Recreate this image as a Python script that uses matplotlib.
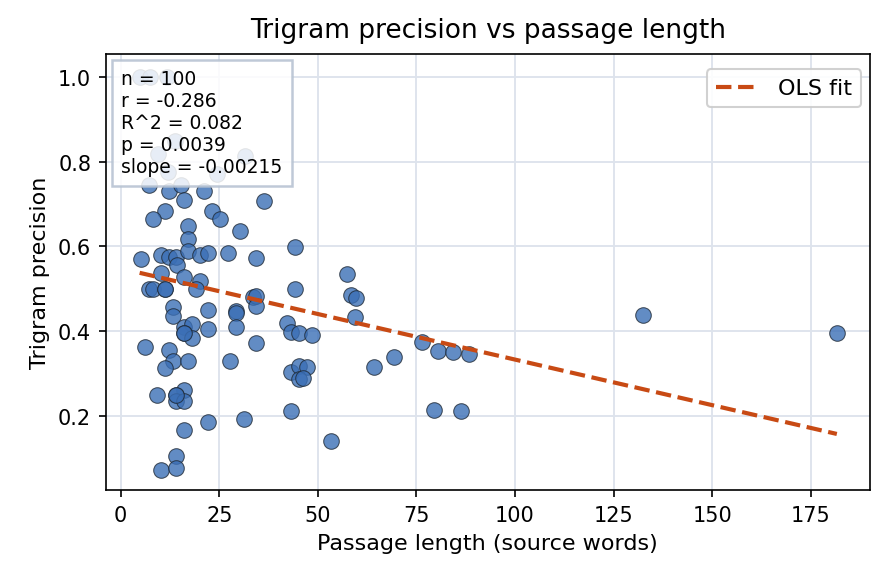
import numpy as np
import matplotlib
matplotlib.use("Agg")
import matplotlib.pyplot as plt

# passage length (source words) vs trigram precision
passage_len = [
    4.8, 7.4, 11.7, 13.7, 9.4, 11.9, 24.3, 31.4,
    7.1, 12.2, 15.2, 21.0, 16.0, 11.2, 8.1, 23.1, 25.1, 17.0, 17.0, 5.1,
    10.1, 12.2, 13.9, 17.0, 20.0, 22.1, 27.1, 14.2, 36.3, 30.2, 34.2, 44.1,
    10.1, 16.0, 20.0, 7.1, 8.1, 11.2, 11.2, 19.0, 13.2, 13.2, 22.1, 16.0,
    18.0, 16.0, 18.0, 22.1, 6.1, 12.2, 13.2, 17.0, 11.2, 27.6,
    9.1, 16.0, 14.0, 14.0, 16.0, 22.1, 16.0, 14.0, 10.1, 14.0,
    57.3, 44.1, 33.5, 34.2, 34.2, 58.3, 59.6, 59.3, 29.2, 29.2, 29.2, 34.2,
    42.1, 43.1, 45.1, 48.4, 43.1, 45.1, 47.2, 45.1, 46.2, 43.1, 31.2,
    53.3, 64.2, 69.2, 76.3, 80.4, 84.2, 88.3, 79.4, 86.2, 132.4, 181.6,
    14.0, 16.0,
]
precision = [
    1.000, 1.000, 1.000, 0.849, 0.818, 0.776, 0.771, 0.814,
    0.745, 0.731, 0.745, 0.731, 0.710, 0.684, 0.665, 0.684, 0.665, 0.649, 0.618, 0.571,
    0.580, 0.575, 0.575, 0.589, 0.580, 0.585, 0.585, 0.556, 0.708, 0.637, 0.573, 0.599,
    0.537, 0.528, 0.519, 0.500, 0.500, 0.500, 0.500, 0.500, 0.457, 0.436, 0.450, 0.410,
    0.417, 0.396, 0.384, 0.405, 0.363, 0.356, 0.330, 0.330, 0.313, 0.330,
    0.250, 0.261, 0.250, 0.236, 0.236, 0.186, 0.167, 0.106, 0.073, 0.077,
    0.535, 0.500, 0.481, 0.483, 0.460, 0.486, 0.479, 0.434, 0.448, 0.443, 0.410, 0.372,
    0.420, 0.398, 0.396, 0.391, 0.304, 0.318, 0.316, 0.287, 0.290, 0.212, 0.193,
    0.141, 0.316, 0.339, 0.375, 0.353, 0.351, 0.346, 0.214, 0.212, 0.438, 0.396,
    0.250, 0.396,
]

# fit as printed in the stats box
fit_slope = -0.00215
fit_intercept = 0.548
stats_lines = ["n = 100", "r = -0.286", "R^2 = 0.082", "p = 0.0039", "slope = -0.00215"]

fig = plt.figure(figsize=(5.973, 3.893), dpi=150)
ax = fig.add_axes([0.118, 0.159, 0.853, 0.747])

ax.grid(True, color="#dde3ec", linewidth=0.9)
ax.set_axisbelow(True)

ax.scatter(passage_len, precision, s=56, color="#3b6fb6", alpha=0.8,
           edgecolor="#1f2a36", linewidth=0.5, zorder=2)

xs = np.array([min(passage_len), max(passage_len)])
ax.plot(xs, fit_intercept + fit_slope * xs, linestyle="--", color="#c84a14",
        linewidth=2, label="OLS fit", zorder=3)

ax.text(0.02, 0.965, "\n".join(stats_lines), transform=ax.transAxes,
        va="top", ha="left", fontsize=9, zorder=5,
        bbox=dict(boxstyle="square,pad=0.5", facecolor="white",
                  edgecolor="#b4c0d0", linewidth=1.2, alpha=0.85))

ax.legend(loc="upper right", fontsize=10.7, framealpha=0.9, edgecolor="#cccccc",
          bbox_to_anchor=(1.0, 0.985), borderaxespad=0.4)

ax.set_xlim(-3.8, 190)
ax.set_ylim(0.025, 1.054)
ax.set_title("Trigram precision vs passage length", fontsize=12.7, pad=8)
ax.set_xlabel("Passage length (source words)", fontsize=10.7)
ax.set_ylabel("Trigram precision", fontsize=10.7)
ax.set_xticks([0, 25, 50, 75, 100, 125, 150, 175])
ax.set_yticks([0.2, 0.4, 0.6, 0.8, 1.0])
ax.tick_params(labelsize=10)

fig.savefig("out.png", dpi=150)
